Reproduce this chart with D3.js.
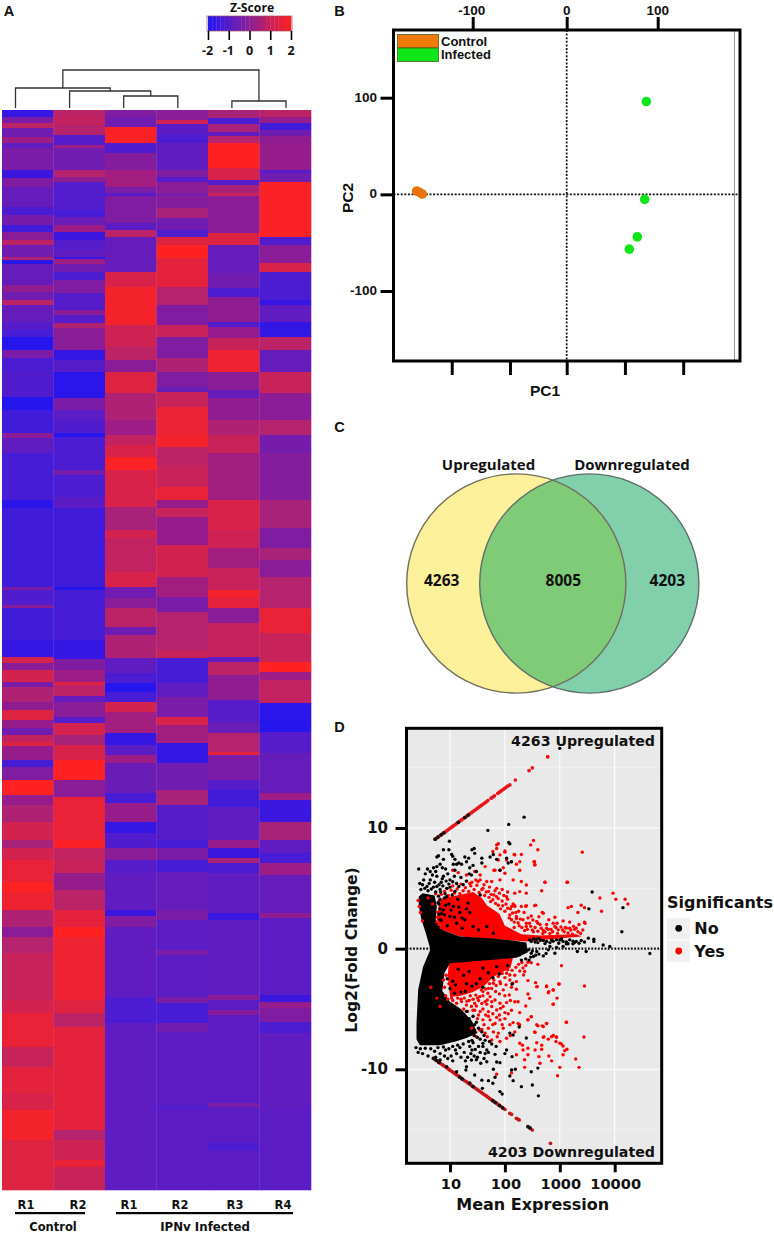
<!DOCTYPE html>
<html><head><meta charset="utf-8">
<script src="https://cdn.jsdelivr.net/npm/d3@7/dist/d3.min.js"></script>
<style>html,body{margin:0;padding:0;background:#fff}svg{display:block}</style>
</head><body><div id="chart"></div>
<script>
// ---- Panel A: heat map. Each column is a list of [last gene-row index, z-score] runs
const heatColumns = ["Control R1","Control R2","IPNv R1","IPNv R2","IPNv R3","IPNv R4"];
const heatColLabels = ["R1","R2","R1","R2","R3","R4"];
const ctrlR1 = [[117,-1.6],[123,-.3],[128,.8],[137,-.5],[143,.3],[148,-.8],[170,-.3],[178,-1.5],[187,-.2],[207,-.7],[215,-1.2],[225,-.4],[232,-1.4],[240,0],[245,.8],[257,-.5],[260,.6],[264,-1.8],[285,-.7],[292,.1],[300,-.5],[305,.8],[322,-.7],[330,-1],[337,-1.3],[350,-1.9],[358,-.3],[372,-1.2],[397,-1.1],[410,-1.9],[433,-1.4],[438,0],[453,-.8],[500,-1.3],[508,-1.8],[587,-1.4],[590,-.3],[605,-1.1],[608,0],[640,-1.4],[657,-1.6],[663,1.2],[670,0],[682,1.2],[687,-.3],[702,.6],[710,.1],[720,1.4],[728,.2],[735,-.5],[742,.9],[746,1.4],[760,.2],[767,-1.3],[780,-.2],[795,2],[805,.2],[822,.6],[840,1.2],[848,.5],[860,1.2],[882,1.6],[892,2],[910,1.7],[927,.6],[937,0],[953,.7],[1000,1],[1013,1.2],[1047,1.6],[1067,1],[1093,1.5],[1110,1.3],[1140,1.8],[1190,1.4]];
const ctrlR2 = [[117,.8],[125,.9],[135,.7],[145,-1],[148,.3],[170,-.5],[177,.7],[182,.1],[210,-1.05],[217,-1.3],[225,-.6],[232,.3],[240,-1.5],[250,-1],[257,-.8],[259,-1.7],[264,.3],[272,-.5],[280,-1.2],[293,-.2],[310,-1],[315,0],[323,-1],[328,.6],[350,0],[360,-1.6],[372,-1],[398,-1.8],[410,-.3],[420,-.9],[433,-1.1],[437,-1.9],[470,-1.2],[475,-.4],[497,-1.2],[508,-.9],[587,-1.4],[590,-1.9],[640,-1.3],[659,-1.6],[670,-.2],[682,.3],[685,1.4],[696,.8],[702,-.7],[717,0],[723,-1],[735,1.2],[745,.5],[760,1.3],[780,2],[797,0],[840,1.6],[848,1.9],[860,.9],[873,1],[890,.2],[910,.8],[927,1.5],[937,2],[1000,1.7],[1013,1.4],[1027,.8],[1130,1.5],[1140,.7],[1160,1.1],[1167,1.6],[1190,1]];
const ipnR1 = [[117,-.2],[127,-.5],[143,1.9],[153,-1.1],[170,-.1],[187,.4],[193,-.3],[196,-1],[223,-.2],[230,-.9],[237,.8],[272,-.7],[287,1.3],[325,1.8],[347,1.1],[360,.8],[372,0],[393,1.4],[420,.6],[435,.3],[445,.9],[457,1.3],[470,1.9],[507,1.3],[530,.5],[538,1.2],[572,.9],[587,1.3],[598,-.5],[608,0],[627,.8],[635,-.5],[658,.6],[673,-.8],[683,-1.2],[692,-1.9],[702,-1.3],[712,1.2],[733,.4],[745,-1.6],[755,-.9],[763,.3],[793,-.6],[803,-1.3],[822,.2],[833,-1.6],[848,-1.1],[860,0],[873,-1],[910,-.8],[916,-1.5],[927,-.2],[997,-.8],[1023,-1.2],[1190,-.85]];
const ipnR2 = [[120,0],[124,1.1],[135,-.9],[143,-1.2],[170,-.8],[177,-.2],[182,-1],[193,0],[196,-.3],[208,-.1],[218,.5],[230,-.5],[237,-1.1],[245,1.4],[258,2],[287,1.5],[305,.7],[325,-.2],[337,1],[358,-.2],[372,.6],[387,-.2],[392,-.6],[407,1],[437,1.65],[447,1.8],[465,.8],[487,1],[500,1.6],[508,.2],[517,1],[545,.2],[577,1.2],[597,.4],[612,-.3],[650,.7],[658,1],[683,-1.3],[697,-.8],[717,-.3],[725,1.3],[743,.4],[763,-1.6],[790,-.5],[805,.5],[840,-1],[848,-1.3],[860,-.3],[872,-1.3],[910,-.7],[920,-.3],[950,-.9],[955,-.3],[997,-.9],[1003,-.3],[1023,-1.3],[1032,-.5],[1105,-.9],[1110,-1.1],[1190,-.9]];
const ipnR3 = [[118,.5],[124,-1.2],[132,.5],[136,-.8],[143,.7],[168,2],[180,1.3],[185,-1],[193,.5],[196,1],[233,0],[245,1.4],[273,-.7],[288,-.5],[297,-1.2],[322,.1],[327,-1.1],[338,.2],[350,1],[372,1.7],[390,0],[398,-.7],[420,.1],[435,.6],[453,1],[500,.4],[530,1.3],[548,1.1],[568,.4],[590,1],[597,1.8],[608,1.5],[623,0],[657,.95],[662,-.8],[675,.8],[700,.1],[722,-1],[733,-.6],[752,.7],[755,1.5],[780,-.3],[790,-1],[807,-1.4],[840,-.8],[848,.2],[858,-1.5],[863,.5],[873,-1.2],[913,-.8],[920,-1.5],[995,-.8],[1000,0],[1010,-.9],[1015,-.1],[1103,-.9],[1107,-.3],[1143,-.9],[1150,-1.2],[1190,-.9]];
const ipnR4 = [[117,.8],[123,.2],[130,-1.4],[136,-.5],[143,.1],[170,.2],[173,-1],[182,-.5],[237,1.9],[245,-1.1],[263,0],[272,1.3],[300,-1.2],[305,-1.6],[322,-.8],[337,-1.7],[350,.8],[372,-.7],[393,1],[398,.1],[420,0],[435,.7],[453,-.4],[500,-.1],[528,.5],[548,-.2],[560,.5],[577,0],[608,.7],[633,1.6],[662,1],[672,2],[680,.3],[703,.9],[720,-1.8],[732,-1.9],[753,-1],[793,-.7],[800,.3],[822,-1.5],[840,.5],[853,-.8],[863,-1.3],[875,.3],[913,-.7],[918,.1],[995,-.9],[1002,-1.5],[1008,.2],[1022,-.2],[1033,-1.2],[1110,-.8],[1190,-.9]];
const heatData = [ctrlR1,ctrlR2,ipnR1,ipnR2,ipnR3,ipnR4];
const zScoreTicks = [-2,-1,0,1,2];
// dendrogram merges: [left child, right child, merge height]; children <6 are leaves, >=6 earlier merges
const dendroMerges = [[2,3,12],[4,5,7],[1,6,17],[0,8,20],[9,7,38]];

// ---- Panel B: PCA
const pcaControlPC1 = [-159.6,-156.6,-153.6];
const pcaControlPC2 = [3.4,2,.3];
const pcaInfectedPC1 = [87.5,85.7,77.6,68.8];
const pcaInfectedPC2 = [96,-5.2,-44,-56.7];
const pcaTopTicks = [-100,0,100];
const pcaLeftTicks = [100,0,-100];
const pcaBottomTicks = [-122.3,-60.3,0,64,128];

// ---- Panel C: Venn
const vennLabels = ["Upregulated","Downregulated"];
const vennCounts = [4263,8005,4203];

// ---- Panel D: MA plot. Dense clouds are outlines in [log10 mean, log2FC]; the rest are single genes
const denseBlack = [[.64,0],[.56,1.28],[.48,2.4],[.43,3.6],[.43,4.3],[.5,4.6],[.72,4.4],[.76,3.5],[.74,2.4],[.88,1.5],[1.18,1],[1.73,.87],[2.15,.67],[2.39,.5],[2.42,-.3],[2.21,-.75],[1.73,-.95],[1,-1.2],[.9,-2],[.86,-3.5],[1,-4.4],[1.2,-5],[1.4,-6],[1.5,-7],[1.3,-7.4],[1.1,-7.7],[.82,-8],[.45,-8],[.39,-7.5],[.39,-6.2],[.42,-3.4],[.51,-1.49],[.64,-.1]];
const denseRedUp = [[.86,4.2],[1.12,4.4],[1.42,4.7],[1.58,4.2],[1.67,3.6],[1.9,2.9],[2,1.9],[2.3,1.2],[2.64,1.1],[3,1.15],[3.3,1.2],[3.4,1],[2.88,.8],[2.39,.6],[1.18,1],[.88,1.5],[.76,2.4],[.79,3.5]];
const denseRedDown = [[.96,-2.2],[.98,-1.1],[2.15,-.7],[2.1,-1.6],[1.8,-2.3],[1.62,-3.1],[1.42,-3.6],[1.2,-3.9],[1,-4]];
const lineUpLog = [.73,.76,.79,.82,.85,.88,.91,.94,.97,1,1.03,1.06,1.09,1.12,1.15,1.18,1.21,1.24,1.27,1.3,1.33,1.36,1.39,1.42,1.45,1.48,1.51,1.54,1.57,1.6,1.63,1.66,1.69,1.75,1.78,1.81,1.87,1.9,1.93,1.96,1.99,2.02,2.05,2.09,2.19,2.44,2.5,2.78];
const lineUpFC  = [9.07,9.17,9.27,9.37,9.47,9.57,9.67,9.77,9.87,9.97,10.07,10.17,10.27,10.37,10.47,10.57,10.67,10.77,10.87,10.97,11.07,11.17,11.27,11.37,11.47,11.57,11.67,11.77,11.87,11.97,12.07,12.17,12.27,12.47,12.57,12.67,12.87,12.97,13.07,13.17,13.27,13.37,13.47,13.57,13.98,14.76,14.99,15.9];
const lineDownLog = [.7,.73,.76,.79,.82,.85,.88,.91,.94,.97,1,1.03,1.06,1.09,1.12,1.15,1.18,1.21,1.24,1.27,1.3,1.33,1.36,1.39,1.42,1.45,1.48,1.51,1.54,1.57,1.6,1.63,1.66,1.69,1.72,1.75,1.78,1.81,1.84,1.87,1.9,1.93,1.96,2,2.09,2.12,2.21,2.24,2.26,2.42,2.45,2.5,2.83];
const lineDownFC  = [-9.09,-9.19,-9.29,-9.39,-9.48,-9.58,-9.68,-9.77,-9.87,-9.97,-10.07,-10.16,-10.26,-10.36,-10.46,-10.55,-10.65,-10.75,-10.85,-10.95,-11.04,-11.14,-11.24,-11.34,-11.43,-11.53,-11.63,-11.72,-11.82,-11.92,-12.02,-12.11,-12.21,-12.31,-12.41,-12.51,-12.6,-12.7,-12.8,-12.89,-12.99,-13.09,-13.19,-13.32,-13.65,-13.73,-14.06,-14.14,-14.2,-14.75,-14.85,-15.03,-16.13];
const lineBlack = [[.73,9.07],[.78,9.25],[.84,9.45],[.89,9.6],[1.15,10.47],[1.27,10.87],[1.33,11.07],[.7,-9.09],[.75,-9.25],[.8,-9.43],[1.18,-10.65],[1.22,-10.8],[1.36,-11.14],[1.42,-11.43],[1.78,-12.6],[1.83,-12.75],[1.9,-13],[1.96,-13.19],[2.42,-14.75],[2.46,-14.87]];
const sparseRed = [[2.78,15.9],[2.52,8.96],[2.47,8.6],[2.6,8.2],[3.41,8],[1.88,8.7],[1.78,8.05],[1.85,8.3],[2,8.1],[2.17,7.8],[2.3,7.8],[2.53,7.2],[2.55,6.95],[2.27,7.2],[2.21,7],[2.27,6.5],[1.97,6.7],[1.8,6.5],[2.73,5.5],[3.13,5.5],[2.67,4.8],[3.97,4.6],[3.73,4.2],[4.02,4.1],[4.19,4.1],[4.24,3.7],[3.76,3.1],[3.39,3.6],[3.45,3.4],[3.21,3.5],[3.15,3.4],[3.33,3],[2.68,3],[2.56,3.6],[2.38,3.5],[2.18,3.5],[3.45,2.2],[2.91,2.6],[3.06,2.3],[3.18,2.2],
[1.85,8.6],[2.18,7.77],[2.54,7.2],[2.54,6.94],[2,8],[1.91,7.77],[1.88,7.35],[2.03,7.35],[2.12,7.2],[1.64,6.8],[1.82,6.5],[1.91,6.5],[2,6.25],[2.15,5.7],[2.3,5.56],[2.39,5.28],[2.73,5.5],[3.14,5.5],[2.39,4.6],[2.27,4.73],[2.18,4.6],[1.91,5.7],[1.76,5.56],[1.67,5.56],[1.51,5.56],[1.4,5.5],[1.3,5.6],[1.2,5.35],[2.03,4.3],[2.12,3.5],[2.18,3.55],[2.3,3.5],[2.39,3.57],[2.54,3.57],[2.7,2.93],[2.21,2.5],[2.39,2.1],[2.51,2.38],[2.6,2.1],[2.76,2],[2.91,1.83],[3.12,1.7],
[1.72,5.1],[1.85,5],[1.95,4.9],[2.05,4.7],[1.75,4.5],[1.85,4.3],[1.95,3.95],[2.02,3.7],[2.1,3.3],[1.78,4.05],[1.7,4.75],[1.6,5],[1.88,3.6],[2.88,2.1],[2.97,1.56],[2.76,1.7],[2.64,2],[2.58,2.25],[2.45,2.1],[2.39,1.83],[2.33,2.4],[2.21,2.66],[2.12,2.4],[2.09,2.8],[3.18,1.7],[3.3,1.7],[2.26,1.9],[2.17,1.75],[2.5,1.55],[2.7,1.5],[2.84,1.6],[3.05,1.55],[3.25,1.85],
[.42,4],[.44,3.5],[.46,3],[.5,2.3],[.6,4.2],[.68,3.7],[.74,4.55],[.95,5],[1.05,5.2],[1.3,6.1],[1.15,6.3],[1.05,6.5],[1.55,6.1],[1.45,6.4],
// fringe of the upper cloud
[.84,4.5],[.9,4.75],[.97,4.4],[1.02,4.85],[1.08,4.6],[1.13,4.95],[1.18,4.55],[1.24,4.8],[1.28,5.05],[1.34,4.75],[1.38,5.2],[1.44,4.9],[1.49,5.25],[1.53,4.65],[1.58,4.9],[1.63,4.4],[1.66,4.7],[1.71,4.25],[1.74,3.9],[1.8,4.45],[1.83,3.75],[1.88,4.15],[1.92,3.3],[1.96,3.55],[2,3.1],[2.05,3.35],[2.08,2.55],[2.14,2.95],[2.17,2.2],[2.2,3],[2.24,2.15],[2.28,2.45],[2.31,1.75],[2.36,1.5],[2.41,1.6],[2.47,1.85],[2.52,1.4],[2.55,1.75],[2.6,1.45],[2.66,1.7],[2.69,1.25],[2.73,1.4],[2.79,1.6],[2.82,1.25],[2.87,1.4],[2.93,1.75],[2.96,1.25],[3.02,1.8],[3.08,1.4],[3.1,1.75],[3.15,1.3],[3.2,1.55],[3.23,1.2],[3.27,1.6],[3.33,1.4],[3.38,1.25],[3.42,1.55],[3.46,2.1],[3.35,2],[2.35,3],[2.48,2.7],[2.62,2.65],[2.8,2.4],[2.95,2.1],[2.42,2.55],[2.25,3.1],[2.15,3.7],[2.05,4.1],[1.98,4.4],[1.9,4.6],[1.82,4.8],[1.62,5.3],[1.47,5.7],[1.55,5.7],[1.36,5.4],
[.82,4.1],[.8,3.9],[.78,3],[.77,2.6],[.76,2.2],[.8,2],[.84,1.75],[.88,1.65],
// fringe of the lower cloud
[1.02,-1.5],[1.08,-2],[1.14,-4.1],[1.2,-4.2],[1.26,-4.1],[1.31,-4.35],[1.37,-3.9],[1.42,-4.2],[1.47,-3.85],[1.52,-4.3],[1.57,-3.4],[1.6,-3.9],[1.65,-3.35],[1.69,-3.7],[1.72,-2.9],[1.76,-3.3],[1.8,-2.6],[1.84,-3.05],[1.88,-2.3],[1.92,-2.9],[1.95,-2.05],[2,-2.4],[2.05,-1.75],[2.09,-2.6],[2.13,-1.8],[2.18,-2.2],[2.2,-1.55],[2.25,-1.3],[2.27,-1.85],[2.31,-1.15],[2.33,-1.6],[2.38,-1.4],[2.12,-3.2],[2.02,-3],[1.9,-3.75],[1.83,-3.55],[1.76,-4.4],[1.68,-4.25],[1.58,-4.55],[1.48,-4.75],[1.42,-5.1],[1.32,-5.2],[1.52,-5.5],[1.7,-5.6],[1.85,-5.7],[2,-5.8],[1.95,-6.3],[2.06,-5.4],[2.12,-5.1],[2.1,-4.3],[2,-3.9],[1.92,-4.95],[1.78,-6.3],[1.62,-6.3],[1.58,-6.7],[1.68,-7.3],[1.86,-7.3],[2.1,-7.2],[2.18,-6.9],[.96,-4.2],[.92,-3.9],[.9,-3.2],[.88,-2.6],[1.05,-4.3],[.93,-2.2],[.98,-2.9],
[2.42,-1.13],[2.48,-1.16],[2.6,-1.3],[2.36,-1.9],[2.34,-2.18],[2.42,-2.65],[2.56,-2.82],[2.59,-3.15],[2.76,-3.15],[2.99,-2.93],[3.03,-1.41],[2.88,-3.42],[2.8,-3.56],[2.95,-4.1],[2.88,-4.6],[3.12,-6.1],
[2.21,-2.73],[2.03,-2.04],[1.91,-2.73],[2.09,-2.18],[1.79,-2.87],[1.7,-3.29],[1.97,-3.42],[2.14,-2.87],[2.21,-3.37],[2.08,-3.84],[2.18,-4.4],[2.24,-4.4],[2.38,-4.75],[2.27,-5.3],[2.48,-5.63],[2.42,-5.9],[2.15,-6.13],[2.24,-6.2],[2.09,-6.3],[2.27,-6.3],[2.54,-6.9],[2.7,-6.46],[2.76,-6.2],[2.6,-6.4],[2.7,-7.35],[2.85,-7.3],[2.94,-7.35],[3,-7.84],[2.58,-7.8],[2.27,-7.84],
[1.54,-3.98],[1.6,-3.56],[1.73,-3.98],[1.64,-4.39],[1.82,-4.25],[1.91,-4.53],[1.76,-4.8],[2.03,-4.47],[1.7,-5.22],[1.97,-4.8],[1.85,-5.08],[1.45,-4.53],[1.39,-4.8],[1.3,-4.67],[1.21,-4.39],[1.12,-4.53],[1.03,-4.1],[1.6,-5.9],[1.73,-5.9],[1.82,-6.2],[1.91,-5.9],[1.7,-6.6],[1.79,-6.9],[1.88,-7],[1.97,-6.6],[1.54,-6.74],[1.64,-7],[2.03,-7.43],[1.91,-7.7],[1.76,-7.57],[1.48,-7.3],[1.39,-6.6],[.76,-4.1],[.82,-4.8],[.65,-3.2],[1.5,-4.1],[1.45,-5.1],[1.55,-5.2],[1.35,-4.3],[1.25,-5],[1.6,-5],[1.67,-4.6],[1.78,-5.4],[1.9,-5.5],[2,-5.3],[1.65,-5.5],[1.5,-5.8],
[3.45,-3.1],[2.98,-2.93],[2.76,-3.1],[2.88,-3.43],[2.79,-3.65],[2.88,-4.6],[2.58,-3.15],[2.42,-3.76],[2.45,-4.12],[3.12,-6.1],[2.76,-6.2],[2.58,-6.3],[2.68,-6.4],[2.42,-5.9],[2.48,-5.64],[3.44,-7.32],[2.94,-7.3],[2.88,-7.2],[2.79,-7.5],[2.71,-7.3],[2.55,-6.94],[2.93,-7.7],[3.03,-7.9],[3.06,-8.07],[3.13,-8.34],[3.09,-8.45],[2.67,-8.34],[2.55,-8.4],[2.67,-8],[2.32,-8],[2.33,-8.4],[2.42,-8.26],[2.21,-8.8],[2.42,-8.8],[2.36,-9.2],[2.62,-8.95],[2.8,-8.9],[2.85,-9.3],[3.06,-8.8],[3.29,-9.15],[3.35,-9.84],[3,-9.84],[2.96,-10.53],[2.36,-9.84],[2.64,-9.5],[2.12,-10.3],[1.85,-10.4]];
const sparseBlack = [[3,16.6],[2.35,10.9],[2.07,10.3],[1.69,9.8],[2.07,8.8],[2.09,8.7],[.99,8.9],[1.44,8.3],[1.4,8.2],[.88,8.2],[.98,8.2],[.76,7.6],[.79,7.7],[3.59,4.7],[3.53,3.3],[4.15,3.4],[4.13,1.4],[3.62,.78],[3.79,.3],[3.91,.18],[4.64,-.4],[3.32,-.24],[3.48,-.24],
[.43,6.6],[.59,6.6],[.64,6.4],[.76,6.8],[.82,7],[.88,7.4],[1.03,7.8],[1.09,7.4],[1.06,7],[1.09,6.5],[1.27,7.6],[1.3,7.2],[1.21,7],[1.45,7.9],[1.58,7.5],[1.58,7.1],[1.73,7.6],[1.79,7.8],[1.85,7.4],[2.03,7.5],[2.12,7.2],[2.06,7.1],[1.91,6.5],[1.36,6.7],[1.48,6.4],[1.39,6.1],[1.3,5.6],[1.12,5.4],[1,5.7],[.88,6],[.76,6],[.64,5.7],[.45,5.4],[.52,5.7],[.58,5.15],[.76,5.15],[.94,5],[1.09,4.75],[1.24,5.3],[.55,6.2],[.68,6.1],[.72,5.5],[.84,5.5],[.96,6.2],[1.08,6],[1.2,5.9],[1.34,7.5],[1.05,7.65],[1.12,7],[1.42,6.9],[.5,5.3],[.62,5.4],[.7,5.1],[.82,4.9],[1.16,7.1],[.92,6.6],[1.35,6.2],
[.47,4.9],[.54,5],[.6,4.8],[.66,4.95],[.74,4.7],[.79,4.35],[.83,4.7],[.87,5.2],[.91,4.55],[.98,5.35],[1.04,4.45],[.8,5.3],[.86,5.8],[.93,5.6],[1,5.1],[1.05,5.55],[1.16,5.15],[.78,3.8],[.82,3.3],[.8,2.85],[.84,2.35],[.9,2.8],[.92,3.6],[.9,4.2],[1.02,3.2],[1.08,2.6],[1.16,3.45],[1.22,2.55],[1.3,3.3],[.74,6.4],[.86,6.7],[.7,6.7],
[.82,4.05],[.94,4.3],[1.06,3.5],[1.18,3],[.88,3.2],[1.36,3],[1.42,1.83],[1.12,2.1],[1.52,1.56],[1.67,1.83],[1.27,2.4],[1,2.66],[.82,2.4],[1.55,4.45],[1.33,3.77],[1.79,1.28],[.98,3.7],[1.14,4.1],[.85,2.9],[.8,3.7],[1.22,1.7],[.95,1.9],
[2.45,.73],[2.52,.8],[2.58,.78],[2.65,.7],[2.7,.67],[2.76,.6],[2.82,.5],[2.88,.62],[2.94,.73],[3,.72],[3.06,.6],[3.12,.55],[3.18,.73],[3.24,.62],[3.3,.6],[3.39,.67],[3.52,.87],[3.62,.6],[2.82,.18],[2.94,.1],[3.06,.18],[2.48,-.38],[2.58,-.24],[2.7,-.6],[2.91,-.38],[2.79,-.1],[2.52,-.65],[2.33,-.24],[2.27,-.5],[2.6,.5],[3.12,.4],[3.24,.4],[2.43,-.1],[2.5,-.2],[2.38,-.85],[2.44,-.95],[2.3,-.95],
[2.48,.6],[2.55,.55],[2.62,.85],[2.73,.42],[2.85,.72],[2.98,.45],[3.03,.8],[3.15,.4],[3.27,.5],[3.35,.45],[3.45,.55],[2.62,-.45],[2.75,-.4],[2.47,-.7],[2.56,-.55],
[2.61,-12.2],[2.5,-11.3],[2.3,-11.44],[1.91,-11.85],[1.95,-12.05],[2.48,-10.2],[2.6,-9.9],[2.19,-10],[2.12,-10.06],[2.09,-10.55],[2.15,-10.94],[1.79,-10],[1.85,-9.4],[1.91,-9.45],[2,-8.7],[2.13,-8.95],[2.03,-8.4],[2.39,-7.4],[2.09,-7],[2.15,-7.16],[2.26,-6.5],[2.13,-2.93],[1.6,-7.85],[1.67,-8.4],[1.45,-10.47],[1.58,-10.9],[1.7,-10.94],[1.82,-10.66],[1.78,-11.16],[1.59,-11.58],[1.29,-10.06],[1.3,-9.78],[1.12,-10.2],[.94,-9.78],[.82,-9.23],[1.39,-9.23],[1.48,-9.2],[1.67,-9.37],[1.82,-8.76],[1.64,-8.7],
[.42,-8.6],[.5,-8.7],[.6,-8.9],[.72,-8.5],[.82,-8.7],[.92,-8.4],[1.02,-8.9],[1.1,-8.4],[1.18,-8.2],[1.26,-8.6],[1.36,-8.1],[1.46,-8.35],[1.55,-8.6],[1.5,-9],[1.38,-8.7],[1.2,-9],[1.05,-9.3],[.96,-9.1],[1.28,-9.3],[1.56,-9.5],[1.42,-7.8],[1.55,-7.5],[1.62,-7.2],[1.4,-7.6],[1.52,-6.6],[1.45,-6.3],[1.35,-5.8],[1.22,-5.5],[1.08,-5],[1.6,-8.1],[1.72,-7.7],[1.05,-8.1],[.65,-8.3],
[.38,-8.2],[.46,-8.3],[.55,-8.25],[.78,-8.2],[.88,-8.15],[.98,-8.3],[1.14,-8],[1.24,-7.9],[1.34,-7.7],[1.44,-7.2],[1.5,-7.35],[1.58,-6.9],[1.48,-6.1],[1.42,-5.6],[1.3,-5.2],[1.76,-7.9],[1.84,-8.1],[1.52,-8.1],[1.64,-7.6],[1.7,-8.6],[1.4,-8.4],[1.12,-8.7],[.74,-9],[.9,-8.9],[1.32,-9],[1.44,-8.9],[1.62,-9.1],
[.95,-2.5],[1.1,-3],[1.25,-2.2],[1.4,-3.1],[1.55,-2.5],[1.7,-2],[1.2,-3.6],[1.85,-1.5],[.85,-1.9],[1,-3.3],[1.05,-2.7],[1.15,-1.7],[1.3,-2.9],[1.35,-1.9],[1.48,-2.9],[1.6,-3.2],[1.6,-1.6],[1.78,-2.4],[1.9,-2.1],[2.05,-1.4],[1.08,-3.7],[1.28,-3.55]];

// ---- colours
const zColor = d3.scaleLinear().domain([-2,-1,0,1,2]).range(["#2016f2","#561cca","#8a1f98","#c8205a","#ff2020"]);

const W=774,H=1234;
const svg=d3.select("#chart").append("svg").attr("width",W).attr("height",H).attr("viewBox",`0 0 ${W} ${H}`);
svg.append("rect").attr("width",W).attr("height",H).attr("fill","#fff");
const defs=svg.append("defs");
defs.append("filter").attr("id","soft").attr("x","0").attr("y","0").attr("width","1").attr("height","1")
  .append("feGaussianBlur").attr("stdDeviation","0.3 0.7");
const ARIAL='"Liberation Sans",Arial,sans-serif', DJV='"DejaVu Sans",Verdana,sans-serif', OPEN='"Open Sans",sans-serif';
function txt(x,y,s,size,font,opt={}){
  const t=svg.append("text").attr("x",x).attr("y",y).attr("font-size",size).attr("font-family",font)
    .attr("font-weight",opt.weight||"bold").attr("text-anchor",opt.anchor||"middle").attr("dominant-baseline","central")
    .attr("fill",opt.fill||"#111").text(s);
  if(opt.rotate) t.attr("transform",`rotate(${opt.rotate} ${x} ${y})`);
  return t;
}
function styleAxis(g,w){
  g.selectAll(".domain").remove();
  g.selectAll(".tick line").attr("stroke","#000").attr("stroke-width",w);
}

// ======= Panel A
txt(9,11,"A",14.5,ARIAL);
const heatX=d3.scaleBand().domain(heatColumns).range([2,311]).padding(0);
const heatY=d3.scaleLinear().domain([110,1190]).range([110,1190]);
const heatG=svg.append("g").attr("filter","url(#soft)");
heatColumns.forEach((c,i)=>{
  let prev=110;
  heatG.append("g").selectAll("rect").data(heatData[i]).join("rect")
    .attr("x",heatX(c)).attr("width",heatX.bandwidth()+.3)
    .attr("y",d=>{const y=heatY(prev);d.y0=y;prev=d[0];return y;})
    .attr("height",d=>heatY(d[0])-d.y0+.3)
    .attr("fill",d=>zColor(d[1]));
});
// colour key
const keyX=d3.scaleLinear().domain([-2,2]).range([208,291]);
svg.append("g").selectAll("rect").data(d3.range(-2,2,.2)).join("rect")
  .attr("x",d=>keyX(d)).attr("width",keyX(.2)-keyX(0)+.3).attr("y",16).attr("height",15).attr("fill",d=>zColor(d+.1));
svg.append("rect").attr("x",207).attr("y",16).attr("width",85).attr("height",15).attr("fill","none").attr("stroke","#a05060").attr("stroke-width",.7);
const keyAxis=svg.append("g").attr("transform","translate(0,31)").call(d3.axisBottom(keyX).tickValues(zScoreTicks).tickSize(9).tickFormat(""));
styleAxis(keyAxis,1.6);
zScoreTicks.forEach(z=>txt(keyX(z)+(z<0?-.5:0),50.5,z,12.5,OPEN));
txt(252,7,"Z-Score",12.2,OPEN);
// dendrogram
const leafX=d3.scalePoint().domain(d3.range(6)).range([15.5,286]);
const dendH=d3.scaleLinear().domain([0,38]).range([108,70]);
const nodes=d3.range(6).map(i=>({x:leafX(i),h:0}));
const dLine=d3.line();
dendroMerges.forEach(([a,b,h])=>{
  const A=nodes[a],B=nodes[b];
  svg.append("path").attr("fill","none").attr("stroke","#333").attr("stroke-width",1.3)
    .attr("d",dLine([[A.x,dendH(A.h)],[A.x,dendH(h)],[B.x,dendH(h)],[B.x,dendH(B.h)]]));
  nodes.push({x:(A.x+B.x)/2,h});
});
// column labels
const labelX=[26,78,129,180,235,283];
heatColLabels.forEach((l,i)=>txt(labelX[i],1205,l,11.5,DJV));
svg.append("rect").attr("x",15).attr("y",1212).attr("width",70).attr("height",2.2).attr("fill","#000");
svg.append("rect").attr("x",116).attr("y",1212).attr("width",177).attr("height",2.2).attr("fill","#000");
txt(53,1227,"Control",11.5,DJV);
txt(205,1227,"IPNv Infected",11.8,DJV);

// ======= Panel B
txt(339.5,11,"B",14.5,ARIAL);
const bL=393.5,bR=740,bT=30,bB=361;
const pcaXTop=d3.scaleLinear().domain([-100,0,100]).range([472.7,566.7,657.7]);
const pcaY=d3.scaleLinear().domain([-100,100]).range([291,97.7]);
const gT=svg.append("g").attr("transform",`translate(0,${bT})`).call(d3.axisTop(pcaXTop).tickValues(pcaTopTicks).tickSize(13).tickFormat(""));
const gB=svg.append("g").attr("transform",`translate(0,${bB})`).call(d3.axisBottom(pcaXTop).tickValues(pcaBottomTicks).tickSize(14).tickFormat(""));
const gL=svg.append("g").attr("transform",`translate(${bL},0)`).call(d3.axisLeft(pcaY).tickValues(pcaLeftTicks).tickSize(13).tickFormat(""));
[gT,gB,gL].forEach(g=>styleAxis(g,3));
pcaTopTicks.forEach(v=>txt(pcaXTop(v)+(v<0?-1:0),10.5,v,13.5,ARIAL));
pcaLeftTicks.forEach(v=>txt(377,pcaY(v)-.5,v,13.5,ARIAL,{anchor:"end"}));
svg.append("line").attr("x1",734.5).attr("x2",734.5).attr("y1",bT).attr("y2",bB).attr("stroke","#999").attr("stroke-width",1);
svg.append("line").attr("x1",pcaXTop(0)).attr("x2",pcaXTop(0)).attr("y1",bT).attr("y2",bB).attr("stroke","#111").attr("stroke-width",1.7).attr("stroke-dasharray","2 1.6");
svg.append("line").attr("x1",bL).attr("x2",742).attr("y1",pcaY(0)).attr("y2",pcaY(0)).attr("stroke","#111").attr("stroke-width",1.7).attr("stroke-dasharray","2 1.6");
svg.append("g").selectAll("circle").data(d3.zip(pcaControlPC1,pcaControlPC2)).join("circle")
  .attr("cx",d=>pcaXTop(d[0])).attr("cy",d=>pcaY(d[1])).attr("r",4.8).attr("fill","#e8720c");
svg.append("g").selectAll("circle").data(d3.zip(pcaInfectedPC1,pcaInfectedPC2)).join("circle")
  .attr("cx",d=>pcaXTop(d[0])).attr("cy",d=>pcaY(d[1])).attr("r",4.8).attr("fill","#0ee618");
svg.append("rect").attr("x",bL).attr("y",bT).attr("width",bR-bL).attr("height",bB-bT).attr("fill","none").attr("stroke","#000").attr("stroke-width",3);
[["Control","#ee7a08",34.5],["Infected","#0ee618",48]].forEach(([n,c,y])=>{
  svg.append("rect").attr("x",397.5).attr("y",y).attr("width",41).attr("height",13.5).attr("fill",c).attr("stroke","#4a5a20").attr("stroke-width",.8);
  txt(441,y+6.8,n,13,ARIAL,{anchor:"start"});
});
txt(545,390,"PC1",15.5,ARIAL);
txt(347,198,"PC2",15.5,ARIAL,{rotate:-90});

// ======= Panel C
txt(339.5,427,"C",14.5,ARIAL);
const vennCx=[516.3,589.3],vennCy=583.5,vennR=109.6;
defs.append("clipPath").attr("id","vl").append("circle").attr("cx",vennCx[0]).attr("cy",vennCy).attr("r",vennR);
svg.append("circle").attr("cx",vennCx[0]).attr("cy",vennCy).attr("r",vennR).attr("fill","#fdf09a");
svg.append("circle").attr("cx",vennCx[1]).attr("cy",vennCy).attr("r",vennR).attr("fill","#82cfac");
svg.append("circle").attr("cx",vennCx[1]).attr("cy",vennCy).attr("r",vennR).attr("fill","#80cb78").attr("clip-path","url(#vl)");
svg.append("circle").attr("cx",vennCx[0]).attr("cy",vennCy).attr("r",vennR).attr("fill","none").attr("stroke","#6f6f5f").attr("stroke-width",1.4);
svg.append("circle").attr("cx",vennCx[1]).attr("cy",vennCy).attr("r",vennR).attr("fill","none").attr("stroke","#5f6f68").attr("stroke-width",1.4);
[441.7,563.3,667.3].forEach((x,i)=>txt(x,579.7,vennCounts[i],15.5,OPEN));
txt(488.5,464,vennLabels[0],15,OPEN);
txt(632,464,vennLabels[1],15,OPEN);

// ======= Panel D
txt(339.5,727,"D",14.5,ARIAL);
const dL=406.5,dR=661.7,dT=728.3,dB=1163.3;
const maX=d3.scaleLog().domain([10,10000]).range([450,614.7]);
const maY=d3.scaleLinear().domain([-10,10]).range([1069.3,828]);
const X=l=>maX(Math.pow(10,l));
svg.append("rect").attr("x",dL).attr("y",dT).attr("width",dR-dL).attr("height",dB-dT).attr("fill","#e9e9e9");
const g0=svg.append("g");
[10,100,1000,10000].forEach(v=>g0.append("line").attr("x1",maX(v)).attr("x2",maX(v)).attr("y1",dT).attr("y2",dB).attr("stroke","#fff").attr("stroke-width",1));
[-10,10].forEach(v=>g0.append("line").attr("y1",maY(v)).attr("y2",maY(v)).attr("x1",dL).attr("x2",dR).attr("stroke","#fff").attr("stroke-width",1));
[-15,-5,5,15].forEach(v=>g0.append("line").attr("y1",maY(v)).attr("y2",maY(v)).attr("x1",dL).attr("x2",dR).attr("stroke","#f6f6f6").attr("stroke-width",.6));
svg.append("line").attr("x1",dL).attr("x2",dR).attr("y1",maY(0)).attr("y2",maY(0)).attr("stroke","#111").attr("stroke-width",2.4).attr("stroke-dasharray","1.8 1.5");
const poly=d3.line().x(d=>X(d[0])).y(d=>maY(d[1])).curve(d3.curveLinearClosed);
svg.append("path").attr("d",poly(denseRedUp)).attr("fill","#f00");
svg.append("path").attr("d",poly(denseRedDown)).attr("fill","#f00");
svg.append("path").attr("d",poly(denseBlack)).attr("fill","#000");
const ptR=1.7;
function dots(data,c,r=ptR){svg.append("g").selectAll("circle").data(data).join("circle").attr("cx",d=>X(d[0])).attr("cy",d=>maY(d[1])).attr("r",r).attr("fill",c);}
dots(d3.zip(lineUpLog,lineUpFC),"#e8141c",1.85);
dots(d3.zip(lineDownLog,lineDownFC),"#c8141c",1.85);
dots(sparseRed,"#f00");
dots(sparseBlack,"#000");
dots(lineBlack,"#111",1.85);
svg.append("rect").attr("x",dL).attr("y",dT).attr("width",dR-dL).attr("height",dB-dT).attr("fill","none").attr("stroke","#000").attr("stroke-width",3);
const axB=svg.append("g").attr("transform",`translate(0,${dB})`).call(d3.axisBottom(maX).tickValues([10,100,1000,10000]).tickSize(9).tickFormat(""));
const axL=svg.append("g").attr("transform",`translate(${dL},0)`).call(d3.axisLeft(maY).tickValues([-10,0,10]).tickSize(11).tickFormat(""));
styleAxis(axB,3);styleAxis(axL,3);
[10,100,1000,10000].forEach(v=>txt(maX(v)+1,1183,v,14.6,DJV));
[-10,0,10].forEach(v=>txt(388,maY(v),v,15,DJV,{anchor:"end"}));
txt(532.7,1204,"Mean Expression",16,DJV);
txt(352,950,"Log2(Fold Change)",15.6,DJV,{rotate:-90});
txt(655,740.5,"4263 Upregulated",14.2,DJV,{anchor:"end"});
txt(655,1151.5,"4203 Downregulated",14.2,DJV,{anchor:"end"});
txt(667,902,"Significants",16,DJV,{anchor:"start"});
[["No","#000",918,928.3],["Yes","#f00",940.5,951]].forEach(([n,c,y,cy])=>{
  svg.append("rect").attr("x",667).attr("y",y).attr("width",23).attr("height",21.5).attr("fill","#f0f0f0");
  svg.append("circle").attr("cx",678.7).attr("cy",cy).attr("r",3.4).attr("fill",c);
  txt(694.3,cy,n,16,DJV,{anchor:"start"});
});
</script></body></html>
